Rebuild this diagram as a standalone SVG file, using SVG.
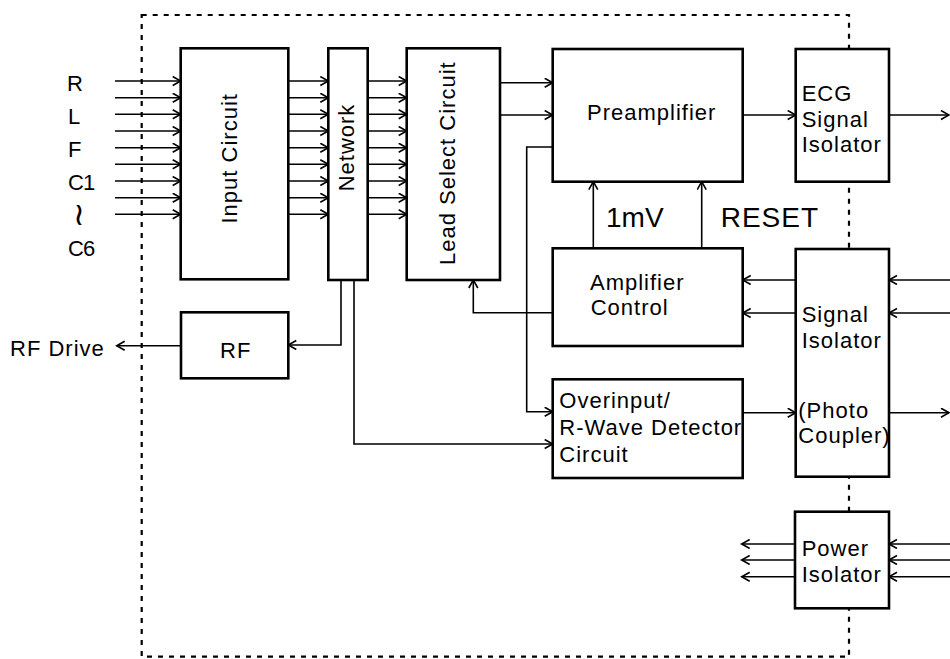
<svg xmlns="http://www.w3.org/2000/svg" width="950" height="659" viewBox="0 0 950 659">
<style>
.box{fill:#fff;stroke:#000;stroke-width:2.6}
.c{fill:none;stroke:#000;stroke-width:1.6}
.a path{marker-end:url(#arr)}
.t{font-family:"Liberation Sans",Arial,sans-serif;font-size:22px;letter-spacing:1px;fill:#000}
.lbl{font-family:"Liberation Sans",Arial,sans-serif;font-size:22px;letter-spacing:-1px;fill:#000}
.big{font-family:"Liberation Sans",Arial,sans-serif;font-size:28px;fill:#000}
.frame{fill:none;stroke:#000;stroke-width:2.2;stroke-dasharray:5 6}
</style>
<defs>
<marker id="arr" markerUnits="userSpaceOnUse" markerWidth="12" markerHeight="12" refX="9" refY="5" orient="auto">
<path d="M1,0.5 L9,5 L1,9.5" fill="none" stroke="#000" stroke-width="1.6"/>
</marker>
</defs>
<rect width="950" height="659" fill="#fff"/>
<rect class="frame" x="141.7" y="15" width="707.3" height="641.7"/>
<g id="input-labels">
<text class="lbl" x="67" y="91">R</text>
<text class="lbl" x="68" y="124">L</text>
<text class="lbl" x="68" y="157">F</text>
<text class="lbl" x="68" y="190">C1</text>
<text x="79" y="225" text-anchor="middle" font-family="DejaVu Sans,sans-serif" font-size="32">≀</text>
<text class="lbl" x="68" y="256">C6</text>
<text class="t" x="10" y="356" letter-spacing="0.7">RF Drive</text>
</g>
<g id="connectors" class="c a">
<path d="M115,81H180.7"/><path d="M115,97.7H180.7"/><path d="M115,114.3H180.7"/><path d="M115,131H180.7"/><path d="M115,147.7H180.7"/><path d="M115,164.3H180.7"/><path d="M115,181H180.7"/><path d="M115,197.7H180.7"/><path d="M115,214.3H180.7"/>
<path d="M288.3,81H328.3"/><path d="M288.3,97.7H328.3"/><path d="M288.3,114.3H328.3"/><path d="M288.3,131H328.3"/><path d="M288.3,147.7H328.3"/><path d="M288.3,164.3H328.3"/><path d="M288.3,181H328.3"/><path d="M288.3,197.7H328.3"/><path d="M288.3,214.3H328.3"/>
<path d="M367.7,81H406.7"/><path d="M367.7,97.7H406.7"/><path d="M367.7,114.3H406.7"/><path d="M367.7,131H406.7"/><path d="M367.7,147.7H406.7"/><path d="M367.7,164.3H406.7"/><path d="M367.7,181H406.7"/><path d="M367.7,197.7H406.7"/><path d="M367.7,214.3H406.7"/>
<path d="M500,82.7H552.7"/><path d="M500,115H552.7"/>
<path d="M742.7,115H795.7"/>
<path d="M889,115H949"/>
<path d="M593.3,248.3V181.7"/>
<path d="M701.7,248.3V181.7"/>
<path d="M795.7,280H742.7"/><path d="M795.7,313H742.7"/>
<path d="M950,280H889"/><path d="M950,313H889"/>
<path d="M552.7,312.7H473.3V280"/>
<path d="M552.7,147H526.7V411.7H552.7"/>
<path d="M341,280V345H288.3"/>
<path d="M354,280V444H552.7"/>
<path d="M181,345.7H116.7"/>
<path d="M742.7,412.7H795.7"/>
<path d="M889,412.7H949"/>
<path d="M795,544H741.7"/><path d="M795,560H741.7"/><path d="M795,576.7H741.7"/>
<path d="M950,544H889"/><path d="M950,560H889"/><path d="M950,576.7H889"/>
</g>
<g id="input-circuit">
<rect class="box" x="180.7" y="48.3" width="107.6" height="231"/>
<text class="t" x="237" y="158.3" text-anchor="middle" transform="rotate(-90 237 158.3)" letter-spacing="1.5">Input Circuit</text>
</g>
<g id="network">
<rect class="box" x="328.3" y="48.3" width="39.4" height="231.7"/>
<text class="t" x="354" y="147.5" text-anchor="middle" font-size="21" transform="rotate(-90 354 147.5)">Network</text>
</g>
<g id="lead-select">
<rect class="box" x="406.7" y="48.3" width="93.3" height="231.7"/>
<text class="t" x="455" y="265" transform="rotate(-90 455 265)">Lead Select Circuit</text>
</g>
<g id="preamplifier">
<rect class="box" x="552.7" y="49" width="190" height="132.7"/>
<text class="t" x="651.7" y="120" text-anchor="middle" letter-spacing="1.3">Preamplifier</text>
</g>
<g id="ecg-signal-isolator">
<rect class="box" x="795.7" y="49" width="93.3" height="132.7"/>
<text class="t" x="801.7" y="101">ECG</text>
<text class="t" x="801.7" y="126.7">Signal</text>
<text class="t" x="801.7" y="151.7">Isolator</text>
</g>
<g id="labels-1mv-reset">
<text class="big" x="606" y="226.7">1mV</text>
<text class="big" x="720.7" y="226.7" letter-spacing="1">RESET</text>
</g>
<g id="amplifier-control">
<rect class="box" x="552.7" y="248.3" width="190" height="97.7"/>
<text class="t" x="590" y="290" letter-spacing="1.6">Amplifier</text>
<text class="t" x="590.7" y="315" letter-spacing="1.6">Control</text>
</g>
<g id="overinput-detector">
<rect class="box" x="552.7" y="379.3" width="190" height="98.7"/>
<text class="t" x="559.3" y="408.3">Overinput/</text>
<text class="t" x="559.3" y="435">R-Wave Detector</text>
<text class="t" x="559.3" y="461.7">Circuit</text>
</g>
<g id="signal-isolator">
<rect class="box" x="795.7" y="249" width="93.3" height="227.7"/>
<text class="t" x="801.7" y="321.7">Signal</text>
<text class="t" x="801.7" y="348.3">Isolator</text>
<text class="t" x="798.3" y="418.3" letter-spacing="0.8">(Photo</text>
<text class="t" x="798.3" y="443.3" letter-spacing="0.6">Coupler)</text>
</g>
<g id="rf">
<rect class="box" x="181" y="312.3" width="107.3" height="66"/>
<text class="t" x="220" y="357.7" font-size="31" letter-spacing="1">RF</text>
</g>
<g id="power-isolator">
<rect class="box" x="795" y="511.7" width="94" height="96.6"/>
<text class="t" x="801.7" y="556">Power</text>
<text class="t" x="801.7" y="582.3">Isolator</text>
</g>
</svg>
